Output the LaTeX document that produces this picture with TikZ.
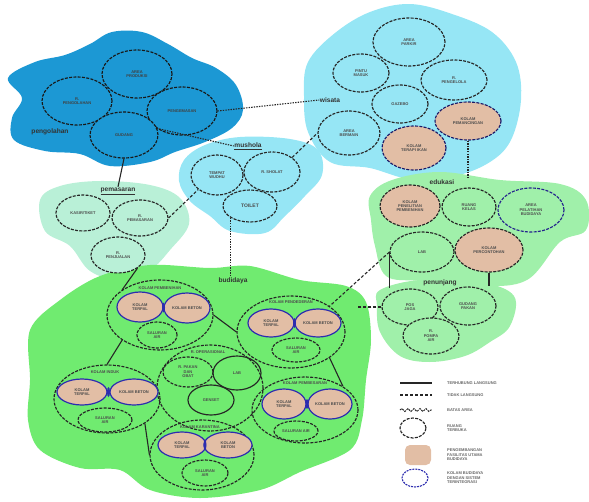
\documentclass[tikz,border=0pt]{standalone}
\usepackage{fontspec}
\setmainfont{Liberation Sans}
\usetikzlibrary{shapes.geometric,decorations.pathmorphing}
\definecolor{pblue}{RGB}{28,152,212}
\definecolor{wcyan}{RGB}{150,230,245}
\definecolor{pgreen}{RGB}{185,240,215}
\definecolor{egreen}{RGB}{160,240,170}
\definecolor{bgreen}{RGB}{112,235,112}
\definecolor{salmon}{RGB}{226,190,165}
\definecolor{bline}{RGB}{45,45,175}
\begin{document}
\begin{tikzpicture}[x=1pt,y=-1pt,
  circ/.style={ellipse, draw=black!85, line width=1.15pt, dash pattern=on 3pt off 1.3pt,
    inner sep=0pt, align=center, font=\fontsize{4}{4.4}\selectfont\bfseries, text=black!70},
  sal/.style={circ, fill=salmon},
  salb/.style={circ, fill=salmon, draw=bline, solid, line width=1.2pt},
  grp/.style={ellipse, draw=black!85, line width=1.15pt, dash pattern=on 3pt off 1.3pt, inner sep=0pt},
  glab/.style={font=\fontsize{4}{4.4}\selectfont\bfseries, text=black!70, inner sep=0.5pt},
  zlab/.style={font=\fontsize{6.6}{7}\selectfont\bfseries, text=black!80, inner sep=0.5pt},
  solidc/.style={line width=1.1pt, black!85},
  dashc/.style={line width=1.1pt, black!85, dash pattern=on 3pt off 2pt},
  dotc/.style={line width=1.1pt, black!85, dash pattern=on 1.4pt off 1.2pt},
  knot/.style={ellipse, fill=bline, minimum width=3, minimum height=10, inner sep=0pt},
  legt/.style={font=\fontsize{4}{4.6}\selectfont\bfseries, text=black!60, anchor=west, align=left, inner sep=0pt}
]
\useasboundingbox (0,0) rectangle (589,501);

% ---------- zone backgrounds ----------
\fill[pblue] plot[smooth cycle, tension=0.6] coordinates {(8,78) (35,62) (65,55) (90,44) (112,32) (142,32) (168,44) (192,58) (216,68) (236,85) (243,110) (232,128) (205,142) (175,152) (150,162) (110,166) (80,154) (45,151) (14,140) (12,118) (22,98)};
\fill[wcyan] plot[smooth cycle, tension=0.6] coordinates {(308,62) (335,33) (370,12) (410,4) (452,14) (492,32) (516,62) (521,100) (511,140) (490,162) (455,176) (410,179) (370,168) (330,162) (308,132) (304,96)};
\fill[wcyan] plot[smooth cycle, tension=0.6] coordinates {(184,160) (205,145) (240,137) (290,139) (318,150) (322,175) (305,196) (285,216) (265,233) (230,231) (210,216) (190,201) (179,181)};
\fill[pgreen] plot[smooth cycle, tension=0.6] coordinates {(40,200) (60,186) (100,181) (150,185) (180,198) (189,224) (170,250) (150,270) (120,280) (90,271) (70,246) (45,231)};
\fill[egreen] plot[smooth cycle, tension=0.6] coordinates {(370,196) (392,180) (440,172) (500,180) (560,184) (586,200) (586,230) (560,242) (527,280) (480,286) (420,281) (386,276) (375,246) (371,220)};
\fill[egreen] plot[smooth cycle, tension=0.6] coordinates {(380,290) (420,280) (480,282) (514,296) (510,326) (490,342) (465,356) (430,362) (400,356) (380,332) (377,306)};
\fill[bgreen] plot[smooth cycle, tension=0.55] coordinates {(30,330) (60,300) (100,276) (150,265) (210,268) (250,266) (300,280) (346,286) (366,302) (371,340) (366,380) (362,420) (350,450) (300,472) (260,490) (200,498) (150,490) (120,470) (80,468) (40,450) (28,420) (30,380)};

% ---------- pengolahan ----------
\node[circ, fill=pblue, text=black!75, draw=black!90] (Pt) at (137,74) [minimum width=70, minimum height=48] {AREA\\PRODUKSI};
\node[circ, fill=pblue, text=black!75, draw=black!90] (Pl) at (77,101) [minimum width=70, minimum height=48] {R.\\PENGOLAHAN};
\node[circ, fill=pblue, text=black!75, draw=black!90] (Pr) at (182,111) [minimum width=70, minimum height=48] {PENGEMASAN};
\node[circ, fill=pblue, text=black!75, draw=black!90] (Pb) at (124,135) [minimum width=68, minimum height=46] {GUDANG};
\node[zlab] (Lp) at (50,132) {pengolahan};

% ---------- wisata ----------
\node[circ, fill=wcyan] (Wt) at (409,42) [minimum width=72, minimum height=48] {AREA\\PARKIR};
\node[circ, fill=wcyan] (Wl) at (361,73) [minimum width=56, minimum height=38] {PINTU\\MASUK};
\node[circ, fill=wcyan] (Wr) at (454,80) [minimum width=66, minimum height=40] {R.\\PENGELOLA};
\node[circ, fill=wcyan] (Wc) at (400,104) [minimum width=56, minimum height=38] {GAZEBO};
\node[circ, fill=wcyan] (Wlb) at (349,133) [minimum width=62, minimum height=44] {AREA\\BERMAIN};
\node[sal, draw=bline!60!black] (Wsr) at (468,121) [minimum width=66, minimum height=38] {KOLAM\\PEMANCINGAN};
\node[sal, draw=bline!60!black] (Wsb) at (414,148) [minimum width=64, minimum height=44] {KOLAM\\TERAPI IKAN};
\node[zlab] (Lw) at (330,100) {wisata};

% ---------- mushola ----------
\node[circ, fill=wcyan] (Ml) at (217,175) [minimum width=52, minimum height=40] {TEMPAT\\WUDHU};
\node[circ, fill=wcyan] (Mr) at (272,172) [minimum width=56, minimum height=40] {R. SHOLAT};
\node[circ, fill=wcyan, font=\fontsize{5}{5.5}\selectfont\bfseries] (Mt) at (250,206) [minimum width=54, minimum height=32] {TOILET};
\node[zlab] (Lm) at (248,146) {\underline{mushola}};

% ---------- pemasaran ----------
\node[circ, fill=pgreen] (Sl) at (83,213) [minimum width=54, minimum height=36] {KASIR/TIKET};
\node[circ, fill=pgreen] (Sr) at (140,218) [minimum width=56, minimum height=36] {R.\\PEMASARAN};
\node[circ, fill=pgreen] (Sb) at (118,255) [minimum width=54, minimum height=36] {R.\\PENJUALAN};
\node[zlab] (Ls) at (118,191) {\underline{pemasaran}};

% ---------- edukasi ----------
\node[sal] (E1) at (410,206) [minimum width=60, minimum height=42] {KOLAM\\PENELITIAN\\PEMBENIHAN};
\node[circ, fill=egreen] (E2) at (469,207) [minimum width=54, minimum height=38] {RUANG\\KELAS};
\node[circ, fill=egreen, draw=bline!80!black] (E3) at (531,210) [minimum width=66, minimum height=44] {AREA\\PELATIHAN\\BUDIDAYA};
\node[circ, fill=egreen] (E4) at (422,252) [minimum width=64, minimum height=40] {LAB};
\node[sal] (E5) at (489,250) [minimum width=68, minimum height=44] {KOLAM\\PERCONTOHAN};
\node[zlab] (Le) at (442,182) {edukasi};

% ---------- penunjang ----------
\node[circ, fill=egreen] (U1) at (410,307) [minimum width=56, minimum height=36] {POS\\JAGA};
\node[circ, fill=egreen] (U2) at (468,306) [minimum width=56, minimum height=38] {GUDANG\\PAKAN};
\node[circ, fill=egreen] (U3) at (431,336) [minimum width=56, minimum height=36] {R.\\POMPA\\AIR};
\node[zlab] (Lu) at (440,283) {penunjang};

% ---------- budidaya ----------
\node[zlab] (Lb) at (233,281) {budidaya};

\node[grp] (G1) at (160,315) [minimum width=106, minimum height=70] {};
\node[glab] at (160,288) {KOLAM PEMBENIHAN};
\node[salb] (G1a) at (140,307) [minimum width=46, minimum height=30] {KOLAM\\TERPAL};
\node[salb] (G1b) at (187,308) [minimum width=46, minimum height=30] {KOLAM BETON};
\node[circ] (G1c) at (157,335) [minimum width=40, minimum height=26] {SALURAN\\AIR};

\node[grp] (G2) at (291,332) [minimum width=108, minimum height=72] {};
\node[glab] at (291,302) {KOLAM PENDEDERAN};
\node[salb] (G2a) at (271,323) [minimum width=46, minimum height=28] {KOLAM\\TERPAL};
\node[salb] (G2b) at (318,323) [minimum width=46, minimum height=28] {KOLAM BETON};
\node[circ] (G2c) at (296,350) [minimum width=48, minimum height=24] {SALURAN\\AIR};

\node[grp] (G3) at (305,410) [minimum width=106, minimum height=66] {};
\node[glab] at (305,383) {KOLAM PEMBESARAN};
\node[salb] (G3a) at (284,404) [minimum width=44, minimum height=30] {KOLAM\\TERPAL};
\node[salb] (G3b) at (330,404) [minimum width=44, minimum height=30] {KOLAM BETON};
\node[circ] (G3c) at (296,431) [minimum width=44, minimum height=20] {SALURAN AIR};

\node[grp] (G4) at (210,388) [minimum width=106, minimum height=86] {};
\node[glab] at (208,352) {R. OPERASIONAL};
\node[circ] (G4a) at (188,372) [minimum width=50, minimum height=30] {R. PAKAN\\DAN\\OBAT};
\node[circ, solid] (G4b) at (237,373) [minimum width=48, minimum height=34] {LAB};
\node[circ, solid] (G4c) at (211,400) [minimum width=46, minimum height=30] {GENSET};

\node[grp] (G5) at (107,399) [minimum width=106, minimum height=68] {};
\node[glab] at (105,372) {KOLAM INDUK};
\node[salb] (G5a) at (82,392) [minimum width=50, minimum height=26] {KOLAM\\TERPAL};
\node[salb] (G5b) at (134,392) [minimum width=48, minimum height=26] {KOLAM BETON};
\node[circ] (G5c) at (105,420) [minimum width=54, minimum height=24] {SALURAN\\AIR};

\node[grp] (G6) at (202,455) [minimum width=104, minimum height=70] {};
\node[glab] at (200,427) {KOLAM KARANTINA};
\node[salb] (G6a) at (182,445) [minimum width=48, minimum height=26] {KOLAM\\TERPAL};
\node[salb] (G6b) at (228,445) [minimum width=48, minimum height=26] {KOLAM\\BETON};
\node[circ] (G6c) at (205,473) [minimum width=46, minimum height=26] {SALURAN\\AIR};

% junctions of paired ponds
\path (G1a.east) -- (G1b.west) node[midway, knot] {};
\path (G2a.east) -- (G2b.west) node[midway, knot] {};
\path (G3a.east) -- (G3b.west) node[midway, knot] {};
\path (G5a.east) -- (G5b.west) node[midway, knot] {};
\path (G6a.east) -- (G6b.west) node[midway, knot] {};

% ---------- connectors ----------
\draw[dotc] (Pr.east) -- (Lw.west);
\draw[dotc] (Pr.south west) -- (Lm.west);
\draw[dashc] (Mr.north east) -- (Wlb.west);
\draw[dotc] (Mt.south west) -- (Mt.south west |- Lb.north);
\draw[solidc] (Pb.south) -- (Ls.north);
\draw[dashc] (Sr.east) -- (Ml.south west);
\draw[solidc] (Sb.south east) -- (G1.north west);
\draw[dotc] (Wsr.south) -- (Wsr.south |- Le.north);
\draw[dashc] (E4.west) -- (G2.north east);
\draw[dashc] (U1.west) -- ++(-24,0) coordinate (ubend);
\draw[solidc] (E4.west) -- (E4.west |- U1.north);
\draw[solidc] (E5.south) -- (E5.south |- U2.north);
\draw[solidc] (G1.east) -- (G2.west);
\draw[solidc] (G1.south west) -- (G5.north);
\draw[solidc] (G2.south east) -- (G3.north east);
\draw[solidc] (G5.south east) -- (G6.west);

% ---------- legend ----------
\draw[solidc] (400,383) -- (432,383);
\node[legt] at (447,383) {TERHUBUNG LANGSUNG};
\draw[dashc] (400,395) -- (432,395);
\node[legt] at (447,395) {TIDAK LANGSUNG};
\draw[black!85, line width=0.9pt, dash pattern=on 2pt off 1pt, decorate, decoration={snake, amplitude=1.5pt, segment length=6pt}] (400,410) -- (432,410);
\node[legt] at (447,410) {BATAS AREA};
\node[circ, fill=white] (lg1) at (413,428) [minimum width=26, minimum height=20] {};
\node[legt] at (447,428) {RUANG\\TERBUKA};
\node[fill=salmon, rounded corners=5pt, minimum width=26, minimum height=20, inner sep=0pt] (lg2) at (418,455) {};
\node[legt] at (447,455) {PENGEMBANGAN\\FASILITAS UTAMA\\BUDIDAYA};
\node[ellipse, draw=bline, line width=1.1pt, dash pattern=on 2pt off 1pt, minimum width=26, minimum height=18, inner sep=0pt] (lg3) at (415,478) {};
\node[legt] at (447,478) {KOLAM BUDIDAYA\\DENGAN SISTEM\\TERINTEGRASI};
\end{tikzpicture}
\end{document}
